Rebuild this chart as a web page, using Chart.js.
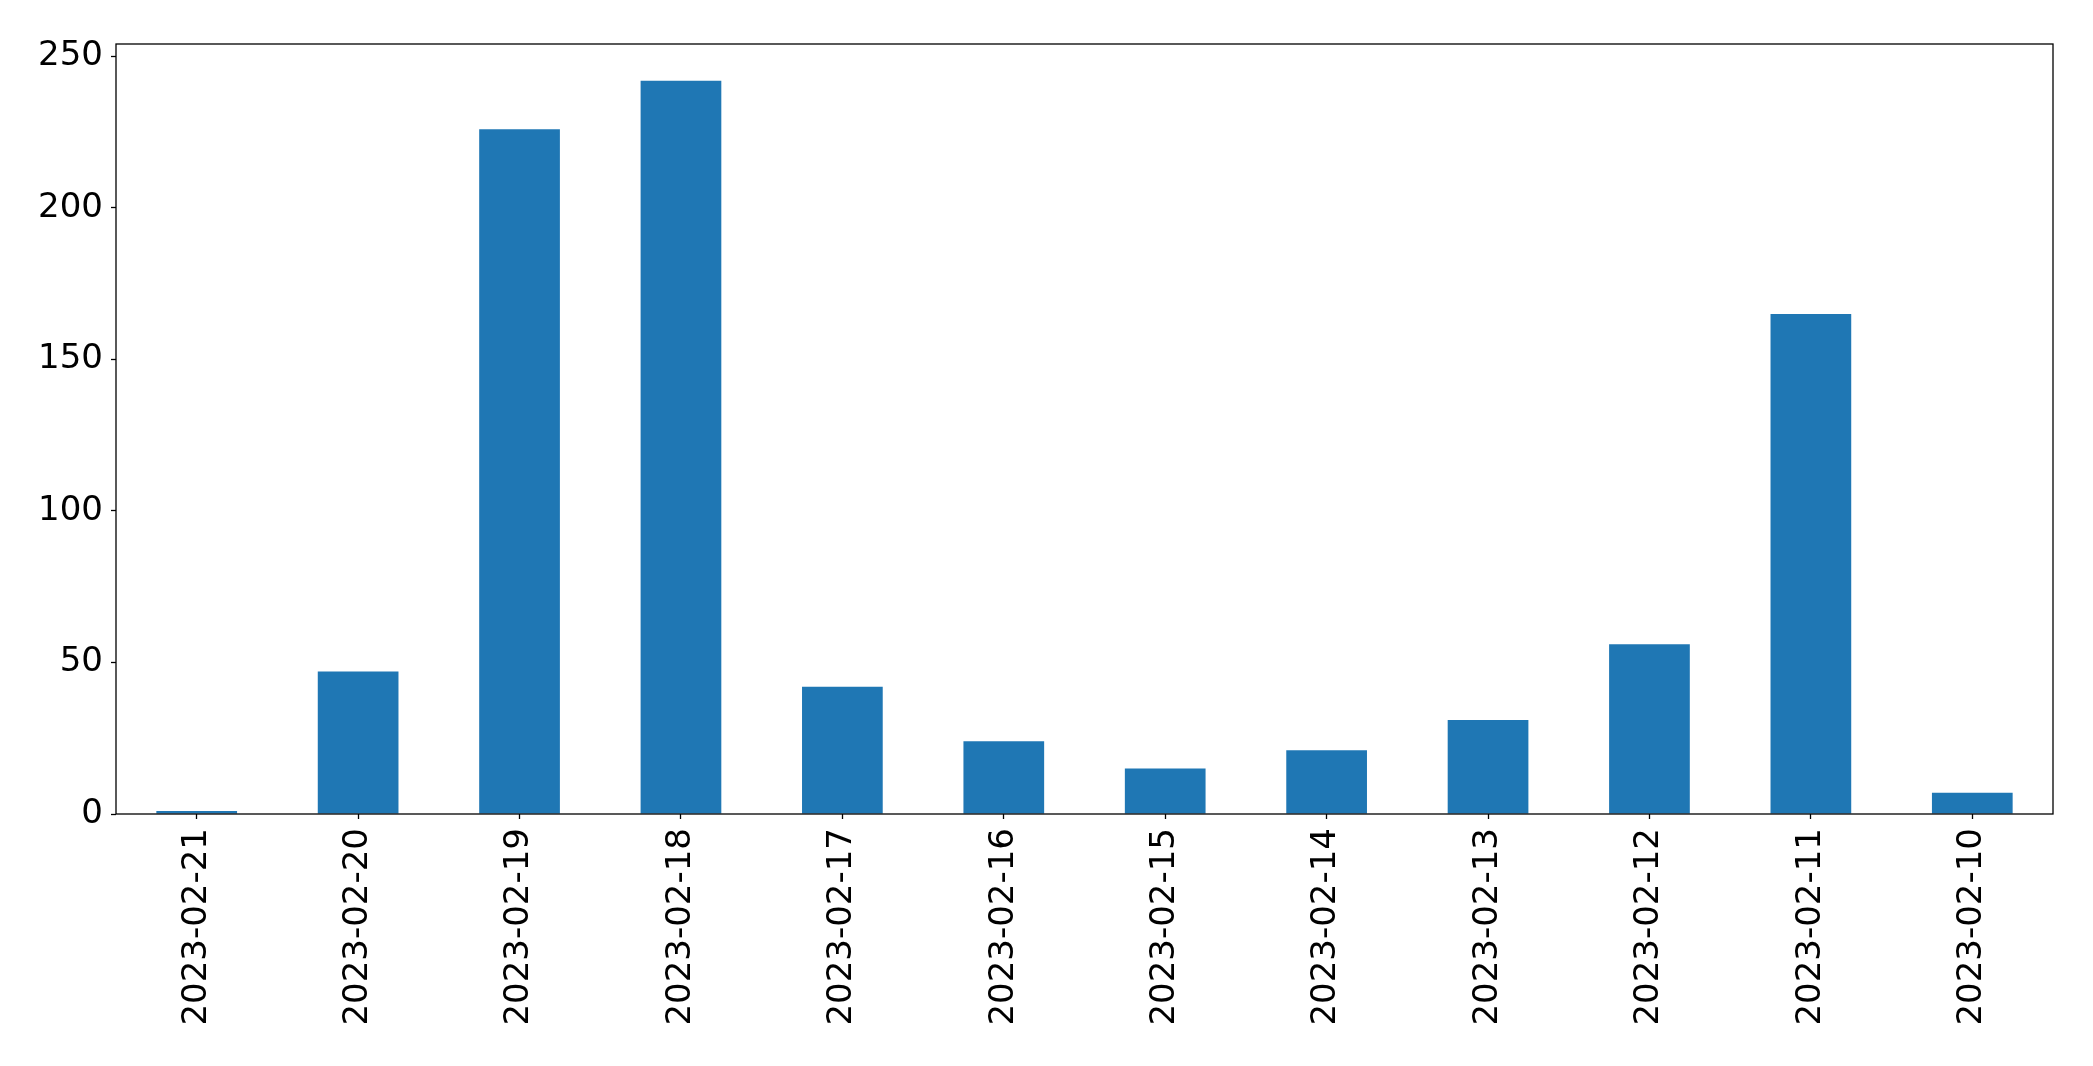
<!DOCTYPE html>
<html>
<head>
<meta charset="utf-8">
<script src="https://cdn.jsdelivr.net/npm/chart.js@4"></script>
<style>
    body { margin: 0; background: #ffffff; }
    #wrap { width: 2093px; height: 1066px; }
</style>
</head>
<body>
<div id="wrap"><canvas id="barChart" width="2093" height="1066"></canvas></div>
<script>
// daily counts, newest first like in the original
const dates = [
    "2023-02-21", "2023-02-20", "2023-02-19", "2023-02-18",
    "2023-02-17", "2023-02-16", "2023-02-15", "2023-02-14",
    "2023-02-13", "2023-02-12", "2023-02-11", "2023-02-10"
];
const counts = [1, 47, 226, 242, 42, 24, 15, 21, 31, 56, 165, 7];
const yTickValues = [0, 50, 100, 150, 200, 250];

const barColor = '#1f77b4';
const fontFamily = "'DejaVu Sans', sans-serif";

// draw the full box around the plot like matplotlib spines
const frameBox = {
    id: 'frameBox',
    afterDraw(chart) {
        const a = chart.chartArea;
        const ctx = chart.ctx;
        ctx.save();
        ctx.strokeStyle = '#000000';
        ctx.lineWidth = 1.3;
        ctx.strokeRect(a.left, a.top, a.right - a.left, a.bottom - a.top);
        ctx.restore();
    }
};

document.addEventListener('DOMContentLoaded', () => {
    const ctx = document.getElementById('barChart').getContext('2d');
    const yMax = Math.max(...counts) * 1.05;

    new Chart(ctx, {
        type: 'bar',
        data: {
            labels: dates,
            datasets: [{
                data: counts,
                backgroundColor: barColor,
                borderWidth: 0,
                barPercentage: 0.5,
                categoryPercentage: 1.0
            }]
        },
        options: {
            responsive: false,
            animation: false,
            layout: {
                padding: { left: 0, top: 44, right: 40, bottom: 0 }
            },
            plugins: {
                legend: { display: false },
                tooltip: { enabled: false }
            },
            scales: {
                x: {
                    grid: {
                        offset: false,
                        drawOnChartArea: false,
                        drawTicks: true,
                        tickLength: 5,
                        tickWidth: 1.3,
                        color: '#000000'
                    },
                    border: { display: false },
                    ticks: {
                        color: '#000000',
                        font: { family: fontFamily, size: 34 },
                        minRotation: 90,
                        maxRotation: 90,
                        autoSkip: false,
                        padding: 9
                    },
                    afterFit(scale) {
                        scale.height = 252;
                    }
                },
                y: {
                    min: 0,
                    max: yMax,
                    grid: {
                        drawOnChartArea: false,
                        drawTicks: true,
                        tickLength: 5,
                        tickWidth: 1.3,
                        color: '#000000'
                    },
                    border: { display: false },
                    ticks: {
                        color: '#000000',
                        font: { family: fontFamily, size: 34 },
                        padding: 8
                    },
                    afterBuildTicks(scale) {
                        scale.ticks = yTickValues.map(v => ({ value: v }));
                    },
                    afterFit(scale) {
                        scale.width = 116;
                    }
                }
            }
        },
        plugins: [frameBox]
    });
});
</script>
</body>
</html>
